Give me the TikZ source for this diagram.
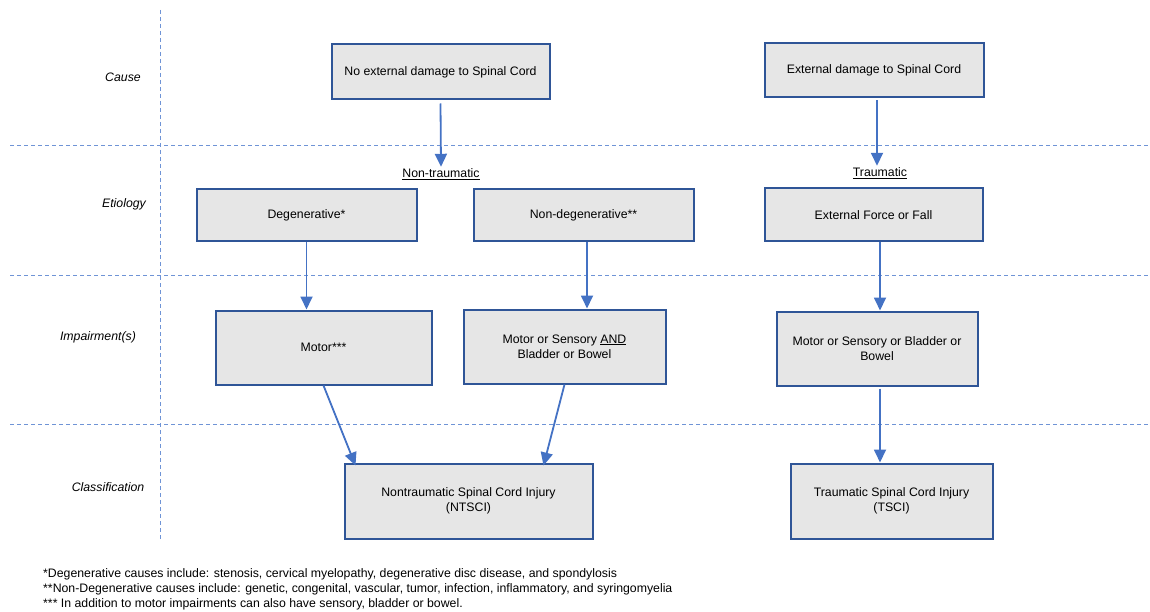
\documentclass[tikz,border=0pt]{standalone}
\usepackage{fontspec}
\setmainfont{Liberation Sans}
\usepackage{tikz}
\usetikzlibrary{arrows,arrows.meta,positioning}
\definecolor{boxline}{HTML}{2F5597}
\definecolor{boxfill}{HTML}{E6E6E6}
\definecolor{arrblue}{HTML}{4472C4}
\definecolor{gridblue}{HTML}{6F94D6}
\tikzset{
  cbox/.style={draw=boxline,fill=boxfill,line width=2pt,align=center,inner sep=2pt,font=\fontsize{12.3}{15}\selectfont},
  arr/.style={draw=arrblue,line width=1.8pt,-{Triangle[width=12pt,length=13pt]}},
  sep/.style={draw=gridblue,line width=1pt,dash pattern=on 4pt off 3pt},
  rowlab/.style={font=\fontsize{12.3}{14}\selectfont\itshape},
  typelab/.style={font=\fontsize{12.3}{14}\selectfont,inner sep=1pt}
}
\begin{document}
\begin{tikzpicture}[x=1pt,y=-1pt]
        \useasboundingbox (0,0) rectangle (1150,612);
        \draw[sep] (160,10) -- (160,540);
        \foreach \y in {146,275,424}
        {
          \draw[sep] (10,\y) -- (1150,\y);
        }
        \node[rowlab] (cause) at (123,77.5) {Cause};
        \node[rowlab] (etio) at (124,204.5) {Etiology};
        \node[rowlab] (imp) at (98,337.5) {Impairment(s)};
        \node[rowlab] (class) at (108,487.5) {Classification};

        \node[cbox,minimum width=218pt,minimum height=55pt] (noext) at (440.5,72) {No external damage to Spinal Cord};
        \node[cbox,minimum width=219pt,minimum height=54pt] (ext) at (874,70.5) {External damage to Spinal Cord};
        \node[typelab] (nontr) at (441,174.5) {\underline{Non-traumatic}};
        \node[typelab] (tr) at (880,173.5) {\underline{Traumatic}};

        \node[cbox,minimum width=220pt,minimum height=52pt] (degen) at (306.5,215.5) {Degenerative*};
        \node[cbox,minimum width=220pt,minimum height=52pt] (nondeg) at (583.5,215.5) {Non-degenerative**};
        \node[cbox,minimum width=218pt,minimum height=53pt] (force) at (873.5,215) {External Force or Fall};

        \node[cbox,minimum width=216pt,minimum height=74pt] (motor) at (323.5,347.5) {Motor***};
        \node[cbox,minimum width=202pt,minimum height=74pt] (motsens) at (564.5,346.5) {Motor or Sensory \underline{AND}\\Bladder or Bowel};
        \node[cbox,minimum width=201pt,minimum height=74pt] (mosb) at (877,348.5) {Motor or Sensory or Bladder or\\Bowel};

        \node[cbox,minimum width=248pt,minimum height=75pt] (ntsci) at (468.5,501) {Nontraumatic Spinal Cord Injury\\(NTSCI)};
        \node[cbox,minimum width=202pt,minimum height=75pt] (tsci) at (891.5,501) {Traumatic Spinal Cord Injury\\(TSCI)};

        \draw[arr] ([yshift=-3pt]noext.south) -- ([yshift=1pt]nontr.north);
        \draw[arr] ([xshift=3pt,yshift=-2pt]ext.south) -- ([xshift=-3pt,yshift=1pt]tr.north);
        \draw[arr] (degen.south) -- (degen.south |- motor.north);
        \draw[arr] ([xshift=3.5pt]nondeg.south) -- ([xshift=3.5pt]nondeg.south |- motsens.north);
        \draw[arr] ([xshift=6.5pt]force.south) -- ([xshift=6.5pt]force.south |- mosb.north);
        \draw[arr] (motor.south) -- ([xshift=12pt,yshift=-3pt]ntsci.north west);
        \draw[arr] (motsens.south) -- ([xshift=-50pt,yshift=-3pt]ntsci.north east);
        \draw[arr] ([xshift=3pt,yshift=-2pt]mosb.south) -- ([xshift=3pt]mosb.south |- tsci.north);

        \node[anchor=north west,align=left,inner sep=0pt,font=\fontsize{12.3}{15}\selectfont] (notes) at (43,568.5)
          {*Degenerative causes include: stenosis, cervical myelopathy, degenerative disc disease, and spondylosis\\
           **Non-Degenerative causes include: genetic, congenital, vascular, tumor, infection, inflammatory, and syringomyelia\\
           *** In addition to motor impairments can also have sensory, bladder or bowel.};
\end{tikzpicture}
\end{document}
